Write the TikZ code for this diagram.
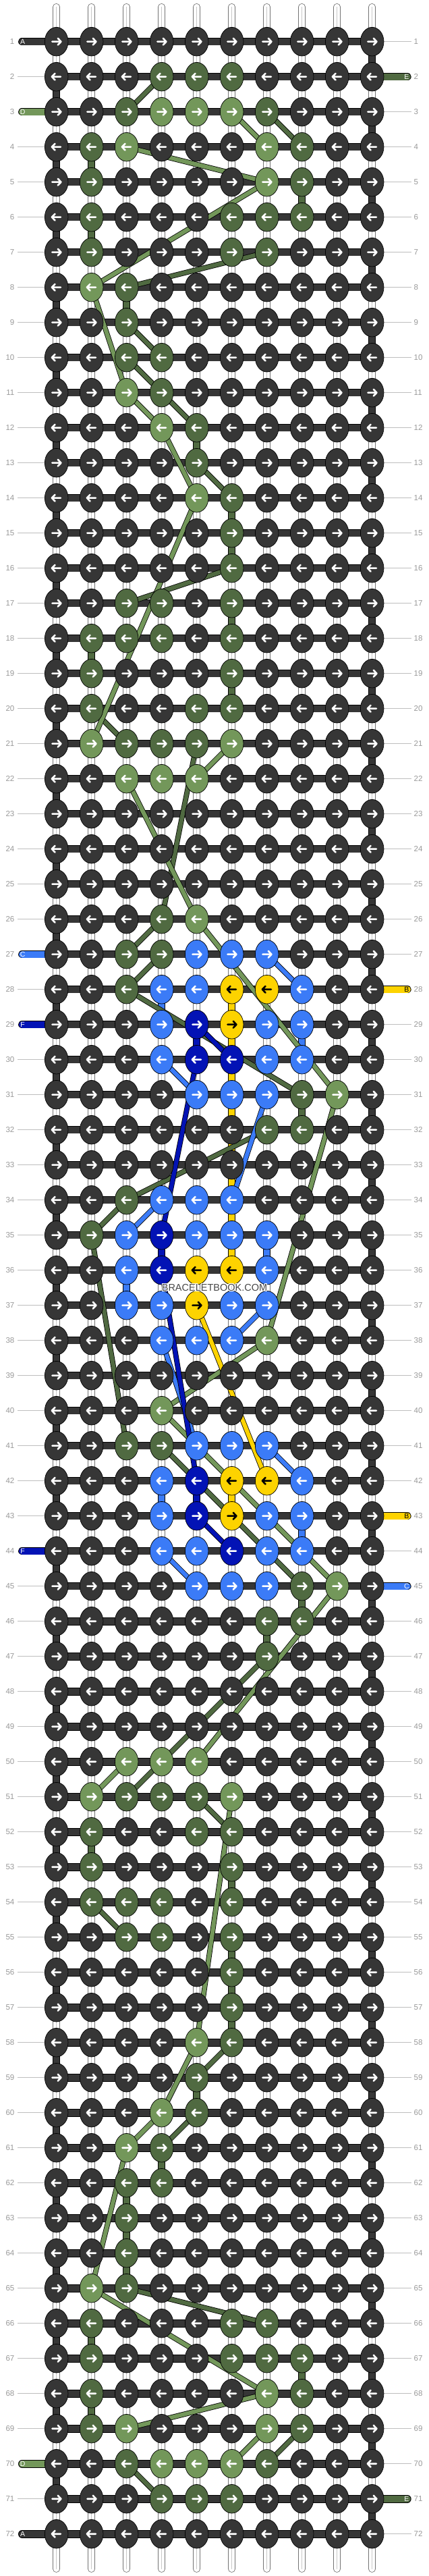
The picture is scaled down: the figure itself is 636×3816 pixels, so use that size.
\documentclass[tikz,border=0pt]{standalone}
\usepackage{fontspec}
\setmainfont{Liberation Sans}
\usetikzlibrary{shapes.geometric}
\definecolor{kK}{HTML}{363636}
\definecolor{kE}{HTML}{506A41}
\definecolor{kD}{HTML}{73975A}
\definecolor{kC}{HTML}{3B7BF7}
\definecolor{kF}{HTML}{0313B5}
\definecolor{kB}{HTML}{FDD300}
\colorlet{aK}{white}
\colorlet{aE}{white}
\colorlet{aD}{white}
\colorlet{aC}{white}
\colorlet{aF}{white}
\colorlet{aB}{black}
\definecolor{lblc}{HTML}{9A9A9A}
\definecolor{lblln}{HTML}{BEBEBE}
\pgfdeclarelayer{paper}
\pgfdeclarelayer{strings}
\pgfdeclarelayer{bars}
\pgfdeclarelayer{threads}
\pgfdeclarelayer{front}
\pgfsetlayers{paper,strings,bars,threads,main,front}
\tikzset{
  knot/.style={ellipse, draw=black, line width=0.7pt, fill=k#1, minimum width=34.6pt, minimum height=42.6pt, inner sep=0pt},
  arrowmark/.style={line width=2.6pt, line cap=round, line join=round, draw=a#1},
  rowlbl/.style={text=lblc, font=\fontsize{11.5}{11.5}\selectfont, inner sep=0pt},
  lblline/.style={draw=lblln, line width=0.9pt},
  whitestring/.style={line width=10.6pt, draw=black!55, line cap=round, postaction={draw=white, line width=9pt, line cap=round}, postaction={draw=black!22, line width=0.7pt}},
  seg/.style={line width=10.6pt, draw=black, postaction={draw=#1, line width=9pt}},
  bar/.style={line width=11.6pt, draw=black, postaction={draw=kK, line width=9.8pt}},
  stub/.style={line width=11.6pt, draw=black, line cap=round, postaction={draw=#1, line width=9.8pt, line cap=round}},
  stublbl/.style={text=#1, font=\fontsize{10.5}{10.5}\selectfont, inner sep=0pt},
  thr/.style={line width=7.8pt, draw=black, postaction={draw=#1, line width=6.2pt}},
  wmark/.style={font=\fontsize{14.5}{14.5}\selectfont, inner sep=0pt}
}
\begin{document}
\begin{tikzpicture}[x=1pt,y=-1pt]
\useasboundingbox (0,0) rectangle (636,3816);
\begin{pgfonlayer}{paper}
\fill[white] (0,0) rectangle (636,3816);
\end{pgfonlayer}
% ---------- knots ----------
\foreach \r/\row in {
 1/{K,K,K,K,K,K,K,K,K,K},
 2/{K,K,K,E,E,E,K,K,K,K},
 3/{K,K,E,D,D,D,E,K,K,K},
 4/{K,E,D,K,K,K,D,E,K,K},
 5/{K,E,K,K,K,K,D,E,K,K},
 6/{K,E,K,K,K,E,E,E,K,K},
 7/{K,E,K,K,K,E,E,K,K,K},
 8/{K,D,E,K,K,K,K,K,K,K},
 9/{K,K,E,K,K,K,K,K,K,K},
 10/{K,K,E,E,K,K,K,K,K,K},
 11/{K,K,D,E,K,K,K,K,K,K},
 12/{K,K,K,D,E,K,K,K,K,K},
 13/{K,K,K,K,E,K,K,K,K,K},
 14/{K,K,K,K,D,E,K,K,K,K},
 15/{K,K,K,K,K,E,K,K,K,K},
 16/{K,K,K,K,K,E,K,K,K,K},
 17/{K,K,E,E,K,E,K,K,K,K},
 18/{K,E,E,E,K,E,K,K,K,K},
 19/{K,E,K,K,K,E,K,K,K,K},
 20/{K,E,K,K,E,E,K,K,K,K},
 21/{K,D,E,E,E,D,K,K,K,K},
 22/{K,K,D,D,D,K,K,K,K,K},
 23/{K,K,K,K,K,K,K,K,K,K},
 24/{K,K,K,K,K,K,K,K,K,K},
 25/{K,K,K,K,K,K,K,K,K,K},
 26/{K,K,K,E,D,K,K,K,K,K},
 27/{K,K,E,E,C,C,C,K,K,K},
 28/{K,K,E,C,C,B,B,C,K,K},
 29/{K,K,K,C,F,B,C,C,K,K},
 30/{K,K,K,C,F,F,C,C,K,K},
 31/{K,K,K,K,C,C,C,E,D,K},
 32/{K,K,K,K,K,K,E,E,K,K},
 33/{K,K,K,K,K,K,K,K,K,K},
 34/{K,K,E,C,C,C,K,K,K,K},
 35/{K,E,C,F,C,C,C,K,K,K},
 36/{K,K,C,F,B,B,C,K,K,K},
 37/{K,K,C,C,B,C,C,K,K,K},
 38/{K,K,K,C,C,C,D,K,K,K},
 39/{K,K,K,K,K,K,K,K,K,K},
 40/{K,K,K,D,K,K,K,K,K,K},
 41/{K,K,E,E,C,C,C,K,K,K},
 42/{K,K,K,C,F,B,B,C,K,K},
 43/{K,K,K,C,F,B,C,C,K,K},
 44/{K,K,K,C,C,F,C,C,K,K},
 45/{K,K,K,K,C,C,C,E,D,K},
 46/{K,K,K,K,K,K,E,E,K,K},
 47/{K,K,K,K,K,K,E,K,K,K},
 48/{K,K,K,K,K,K,K,K,K,K},
 49/{K,K,K,K,K,K,K,K,K,K},
 50/{K,K,D,D,D,K,K,K,K,K},
 51/{K,D,E,E,E,D,K,K,K,K},
 52/{K,E,K,K,E,E,K,K,K,K},
 53/{K,E,K,K,K,E,K,K,K,K},
 54/{K,E,E,E,K,E,K,K,K,K},
 55/{K,K,E,E,K,E,K,K,K,K},
 56/{K,K,K,K,K,E,K,K,K,K},
 57/{K,K,K,K,K,E,K,K,K,K},
 58/{K,K,K,K,D,E,K,K,K,K},
 59/{K,K,K,K,E,K,K,K,K,K},
 60/{K,K,K,D,E,K,K,K,K,K},
 61/{K,K,D,E,K,K,K,K,K,K},
 62/{K,K,E,E,K,K,K,K,K,K},
 63/{K,K,E,K,K,K,K,K,K,K},
 64/{K,K,E,K,K,K,K,K,K,K},
 65/{K,D,E,K,K,K,K,K,K,K},
 66/{K,E,K,K,K,E,E,K,K,K},
 67/{K,E,K,K,K,E,E,E,K,K},
 68/{K,E,K,K,K,K,D,E,K,K},
 69/{K,E,D,K,K,K,D,E,K,K},
 70/{K,K,E,D,D,D,E,K,K,K},
 71/{K,K,K,E,E,E,K,K,K,K},
 72/{K,K,K,K,K,K,K,K,K,K}}{
  \foreach \col [count=\c] in \row {
    \node[knot=\col] (k-\r-\c) at ({83.67+52*(\c-1)},{61.67+52*(\r-1)}) {};
    \ifodd\r\relax
      \draw[arrowmark=\col, shift={(k-\r-\c.center)}] (-6.3,0) -- (6.8,0) (2.1,-4.9) -- (6.8,0) -- (2.1,4.9);
    \else
      \draw[arrowmark=\col, shift={(k-\r-\c.center)}] (6.3,0) -- (-6.8,0) (-2.1,-4.9) -- (-6.8,0) -- (-2.1,4.9);
    \fi
  }
}
% ---------- row labels ----------
\foreach \r in {1,...,72}{
  \node[rowlbl, anchor=east] (ll\r) at (21.5,{61.67+52*(\r-1)}) {\r};
  \node[rowlbl, anchor=west] (lr\r) at (613.5,{61.67+52*(\r-1)}) {\r};
}
% ---------- strings layer ----------
\begin{pgfonlayer}{strings}
\foreach \c in {1,...,10}{
  \coordinate (st\c) at ({83.67+52*(\c-1)},10.3);
  \coordinate (sb\c) at ({83.67+52*(\c-1)},3805.5);
  \draw[whitestring] (st\c) -- (sb\c);
}
\foreach \r in {1,3,...,71}{
  \pgfmathtruncatemacro\rn{\r+1}
  \draw[seg=kK] (k-\r-10.center) -- (k-\rn-10.center);
}
\foreach \r in {2,4,...,70}{
  \pgfmathtruncatemacro\rn{\r+1}
  \draw[seg=kK] (k-\r-1.center) -- (k-\rn-1.center);
}
\foreach \c/\r/\cl in {2/4/E,2/6/E,2/18/E,2/52/E,2/66/E,2/68/E,
  3/8/E,3/36/C,3/62/E,3/63/E,3/64/E,
  4/28/C,4/35/F,4/42/C,4/61/E,
  5/12/E,5/29/F,5/42/F,5/59/E,
  6/14/E,6/15/E,6/17/E,6/19/E,6/28/B,6/29/B,6/30/B,6/31/B,6/32/B,6/33/B,6/34/B,6/35/B,6/42/B,6/53/E,6/55/E,6/56/E,6/57/E,
  7/35/C,7/46/E,
  8/5/E,8/29/C,8/31/E,8/43/C,8/45/E,8/67/E}{
  \pgfmathtruncatemacro\rn{\r+1}
  \draw[seg=k\cl] (k-\r-\c.center) -- (k-\rn-\c.center);
}
\foreach \r in {1,...,72}{
  \pgfmathtruncatemacro\isl{(\r==1||\r==3||\r==27||\r==29||\r==44||\r==70||\r==72)?1:0}
  \pgfmathtruncatemacro\isr{(\r==2||\r==28||\r==43||\r==45||\r==71)?1:0}
  \ifnum\isl=0 \draw[lblline] ([xshift=4.5pt]ll\r.east) -- (k-\r-1.west);\fi
  \ifnum\isr=0 \draw[lblline] (k-\r-10.east) -- ([xshift=-4pt]lr\r.west);\fi
}
\end{pgfonlayer}
% ---------- bars and side strings ----------
\begin{pgfonlayer}{bars}
\foreach \r in {1,...,72}{
  \draw[bar] (k-\r-1.center) -- (k-\r-10.center);
}
\foreach \r/\cl/\lt in {1/K/A,3/D/D,27/C/C,29/F/F,44/F/F,70/D/D,72/K/A}{
  \coordinate (sl\r) at (32.8,{61.67+52*(\r-1)});
  \draw[stub=k\cl] (sl\r) -- (k-\r-1.center);
  \node[stublbl=a\cl] (slt\r) at (33.6,{61.67+52*(\r-1)}) {\lt};
}
\foreach \r/\cl/\lt in {2/E/E,28/B/B,43/B/B,45/C/C,71/E/E}{
  \coordinate (sr\r) at (603.9,{61.67+52*(\r-1)});
  \draw[stub=k\cl] (k-\r-10.center) -- (sr\r);
  \node[stublbl=a\cl] (srt\r) at (602.8,{61.67+52*(\r-1)}) {\lt};
}
\end{pgfonlayer}
% ---------- threads ----------
\begin{pgfonlayer}{threads}
\foreach \a/\b/\cl in {
  2-4/3-3/E, 3-7/4-8/E, 7-7/8-3/E, 9-3/10-4/E, 10-3/11-4/E, 11-4/12-5/E,
  13-5/14-6/E, 16-6/17-3/E, 20-2/21-3/E, 21-5/26-4/E, 26-4/27-3/E, 27-4/28-3/E,
  28-3/31-8/E, 32-7/34-3/E, 34-3/35-2/E, 35-2/41-3/E, 41-4/45-8/E, 47-7/51-3/E,
  51-5/52-6/E, 54-2/55-3/E, 58-6/59-5/E, 60-5/61-4/E, 65-3/66-7/E, 69-8/70-7/E, 70-3/71-4/E,
  3-6/4-7/D, 4-3/5-7/D, 5-7/8-2/D, 8-2/11-3/D, 11-3/12-4/D, 12-4/14-5/D, 14-5/21-2/D,
  21-6/22-5/D, 22-3/26-5/D, 26-5/31-9/D, 31-9/38-7/D, 38-7/40-4/D, 40-4/45-9/D,
  45-9/50-5/D, 50-3/51-2/D, 51-6/58-5/D, 58-5/60-4/D, 60-4/61-3/D, 61-3/65-2/D,
  65-2/68-7/D, 68-7/69-3/D, 69-7/70-6/D,
  27-7/28-8/C, 30-4/31-5/C, 31-7/34-6/C, 34-4/35-3/C, 37-7/38-6/C, 38-4/41-5/C, 41-7/42-8/C, 44-4/45-5/C,
  29-5/30-6/F, 30-5/35-4/F, 36-4/42-5/F, 43-5/44-6/F,
  37-5/42-7/B}{
  \draw[thr=k\cl] (k-\a.center) -- (k-\b.center);
}
\end{pgfonlayer}
% ---------- watermark ----------
\begin{pgfonlayer}{front}
\foreach \dx/\dy [count=\i] in {-1/0,1/0,0/-1,0/1,-1/-1,1/1,-1/1,1/-1}{
  \node[wmark, text=white] (wmh\i) at ({318+\dx},{1907+\dy}) {BRACELETBOOK.COM};
}
\node[wmark, text=black!72] (wm) at (318,1907) {BRACELETBOOK.COM};
\end{pgfonlayer}
\end{tikzpicture}
\end{document}
